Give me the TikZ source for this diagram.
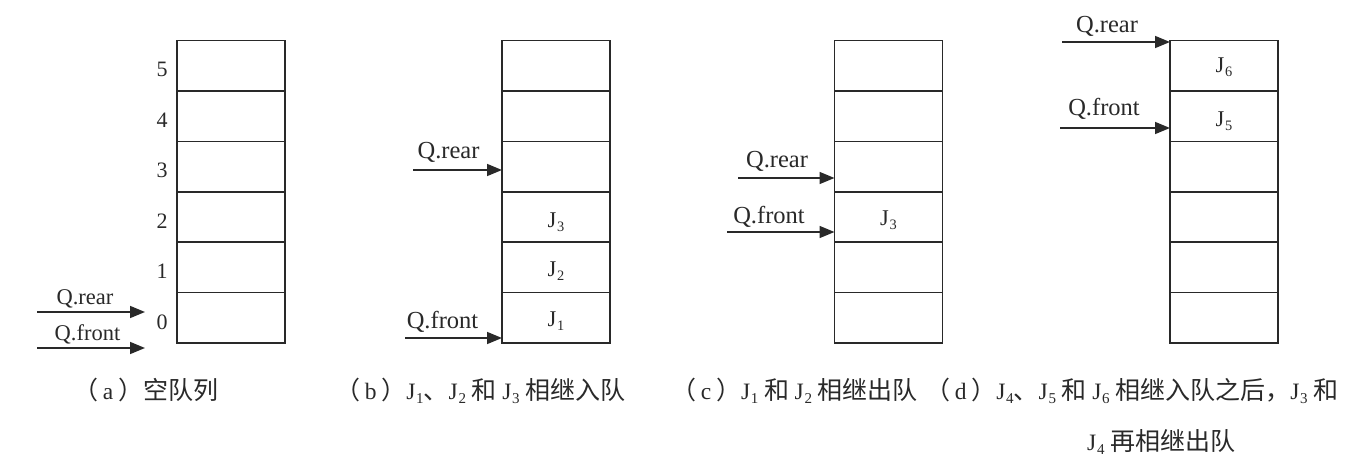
\documentclass[tikz,border=0pt]{standalone}
\usepackage{fontspec}
\setmainfont{Liberation Serif}
\newfontfamily\cjk{Noto Sans CJK SC}
\usetikzlibrary{arrows.meta}
\newcommand{\Jn}[1]{J\kern0.03em\raisebox{-0.4ex}{\scalebox{0.64}{#1}}}
\newcommand{\cj}[1]{{\cjk\fontsize{25}{29}\selectfont #1}}
\newcommand{\gp}{\hspace{0.24em}}
\newcommand{\lt}[1]{\hspace{0.2em}#1\hspace{0.2em}}
\definecolor{ink}{gray}{0.16}
\begin{document}
\begin{tikzpicture}[x=1pt,y=-1pt,
  cell/.style={draw=ink, line width=1.6pt, minimum width=108pt, minimum height=50.4pt, inner sep=0pt, outer sep=0pt},
  jlab/.style={font=\fontsize{22.5}{26}\selectfont, text=ink, inner sep=0pt},
  arr/.style={draw=ink, line width=1.6pt, -{Triangle[length=15pt,width=12pt]}},
  plab/.style={font=\fontsize{24.5}{28}\selectfont, text=ink, inner sep=0pt, anchor=base},
  plaba/.style={plab, font=\fontsize{22.5}{26}\selectfont},
  idx/.style={font=\fontsize{22}{26}\selectfont, text=ink, inner sep=0pt},
  captxt/.style={font=\fontsize{23.5}{27}\selectfont, text=ink, inner sep=0pt, anchor=base west}]
\useasboundingbox (0,0) rectangle (1350,471);
% cells
\foreach \i in {0,...,5}{
  \node[cell] (a\i) at (231,317.8-50.4*\i) {};
  \node[cell] (b\i) at (556,317.8-50.4*\i) {};
  \node[cell] (c\i) at (888.5,317.8-50.4*\i) {};
  \node[cell] (d\i) at (1224,317.8-50.4*\i) {};
}
% contents
\node[jlab] (j1) at ([yshift=-3pt]b0.center) {\Jn{1}};
\node[jlab] (j2) at ([yshift=-4pt]b1.center) {\Jn{2}};
\node[jlab] (j3) at ([yshift=-5pt]b2.center) {\Jn{3}};
\node[jlab] (cj3) at ([yshift=-3pt]c2.center) {\Jn{3}};
\node[jlab] (dj5) at ([yshift=-5pt]d4.center) {\Jn{5}};
\node[jlab] (dj6) at ([yshift=-1pt]d5.center) {\Jn{6}};
% indices
\foreach \i in {0,...,5}{
  \node[idx] (n\i) at (162,321.8-50.4*\i) {\i};
}
% arrows (a)
\coordinate (aRs) at (37,312);
\coordinate (aRe) at (145,312);
\coordinate (aFs) at (37,348);
\coordinate (aFe) at (145,348);
\draw[arr] (aRs) -- (aRe);
\draw[arr] (aFs) -- (aFe);
\node[plaba] (aRl) at (85,304) {Q.rear};
\node[plaba] (aFl) at (87.5,340) {Q.front};
% arrows (b)
\coordinate (bRs) at (413,170);
\coordinate (bFs) at (405,338);
\draw[arr] (bRs) -- (bRs -| b3.west);
\draw[arr] (bFs) -- (bFs -| b0.west);
\node[plab] (bRl) at (448.5,158) {Q.rear};
\node[plab] (bFl) at (442.5,328) {Q.front};
% arrows (c)
\coordinate (cRs) at (738,178);
\coordinate (cFs) at (727,232);
\draw[arr] (cRs) -- (cRs -| c3.west);
\draw[arr] (cFs) -- (cFs -| c2.west);
\node[plab] (cRl) at (777,167) {Q.rear};
\node[plab] (cFl) at (769,223) {Q.front};
% arrows (d)
\coordinate (dRs) at (1062,42);
\coordinate (dFs) at (1060,128);
\draw[arr] (dRs) -- (dRs -| d5.west);
\draw[arr] (dFs) -- (dFs -| d4.west);
\node[plab] (dRl) at (1107,32) {Q.rear};
\node[plab] (dFl) at (1104,115) {Q.front};
% captions
\node[captxt] (capa) at (73,399) {\cj{（}\lt{a}\cj{）空队列}};
\node[captxt] (capb) at (335,399) {\cj{（}\lt{b}\cj{）}\Jn{1}\cj{、}\Jn{2}\gp\cj{和}\gp\Jn{3}\gp\cj{相继入队}};
\node[captxt] (capc) at (671,399) {\cj{（}\lt{c}\cj{）}\Jn{1}\gp\cj{和}\gp\Jn{2}\gp\cj{相继出队}};
\node[captxt] (capd) at (925,399) {\cj{（}\lt{d}\cj{）}\Jn{4}\cj{、}\Jn{5}\gp\cj{和}\gp\Jn{6}\gp\cj{相继入队之后，}\Jn{3}\gp\cj{和}};
\node[captxt] (capd2) at (1087,450) {\Jn{4}\gp\cj{再相继出队}};
\end{tikzpicture}
\end{document}
